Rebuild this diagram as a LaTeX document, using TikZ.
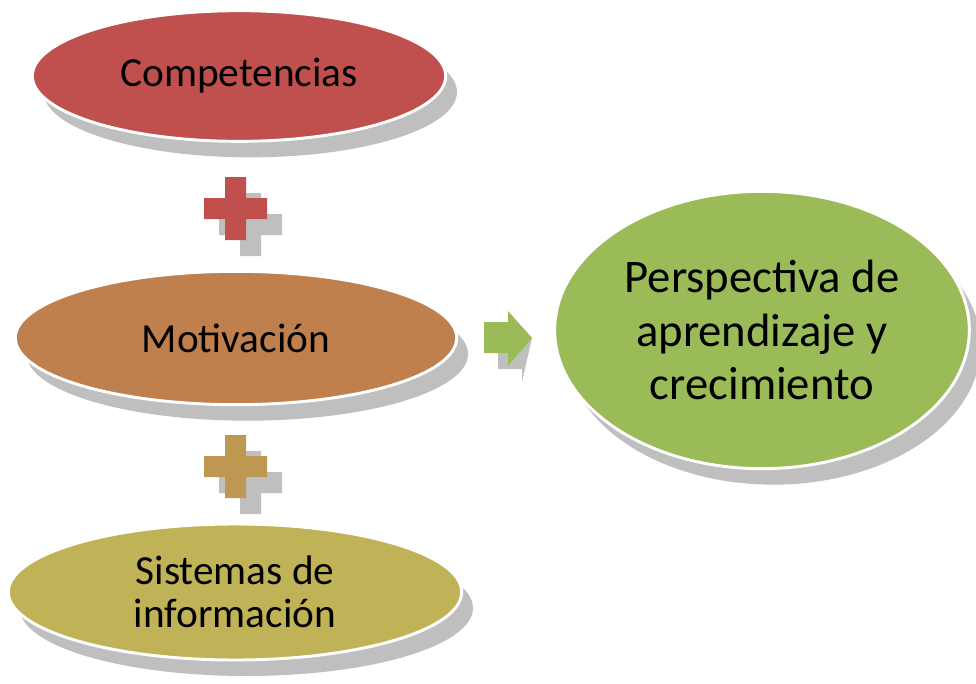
\documentclass[tikz,border=0pt]{standalone}
\usepackage{fontspec}
\setmainfont{Carlito}
\usetikzlibrary{shapes.geometric, shadows}
\tikzset{
  blob/.style={ellipse, draw=white, line width=2.2pt, inner sep=0pt,
    align=center, text=black,
    drop shadow={shadow xshift=8.5pt, shadow yshift=-12pt, fill=black!25, opacity=1}},
  smalltext/.style={font=\fontsize{31}{32}\selectfont},
  bigtext/.style={font=\fontsize{35}{40}\selectfont}
}

\begin{document}
\begin{tikzpicture}[x=0.75pt, y=-0.75pt]
  % Bounding box (taille de l'image)
  \path[use as bounding box] (0,0) rectangle (976,683);

  % Colors.
  \definecolor{redcol}{HTML}{C0504D}
  \definecolor{orangecol}{HTML}{C0804D}
  \definecolor{goldcol}{HTML}{BE9850}
  \definecolor{olivecol}{HTML}{C0B256}
  \definecolor{greencol}{HTML}{9BBB59}
  \colorlet{shadowcol}{black!25}

  % Ellipses.
  \node[blob, smalltext, fill=redcol, minimum width=310pt, minimum height=98pt]
    (comp) at (239,76) {Competencias};
  \node[blob, smalltext, fill=orangecol, minimum width=331pt, minimum height=100pt]
    (motiv) at (236,338) {Motivación};
  \node[blob, smalltext, fill=olivecol, minimum width=340pt, minimum height=102pt]
    (sist) at (235,592) {Sistemas de\\información};
  \node[blob, bigtext, fill=greencol, minimum width=311pt, minimum height=208pt]
    (persp) at (762,330) {Perspectiva de\\aprendizaje y\\crecimiento};

  % Plus signs (shadow first).
  \foreach \cy/\col in {208.5/redcol, 466.5/goldcol} {
    \fill[shadowcol] (225+15,\cy-31.5+16) rectangle ++(21,63)
                     (204+15,\cy-10.5+16) rectangle ++(63,21);
    \fill[\col] (225,\cy-31.5) rectangle ++(21,63)
                (204,\cy-10.5) rectangle ++(63,21);
  }

  % Block arrow between Motivacion and Perspectiva.
  \coordinate (tip) at (532,338);
  \fill[shadowcol, shift={(14,16)}] (484,322) -- (508,322) -- (508,311) -- (tip)
    -- (508,366) -- (508,353) -- (484,353) -- cycle;
  \fill[greencol] (484,322) -- (508,322) -- (508,311) -- (tip)
    -- (508,366) -- (508,353) -- (484,353) -- cycle;
\end{tikzpicture}
\end{document}
